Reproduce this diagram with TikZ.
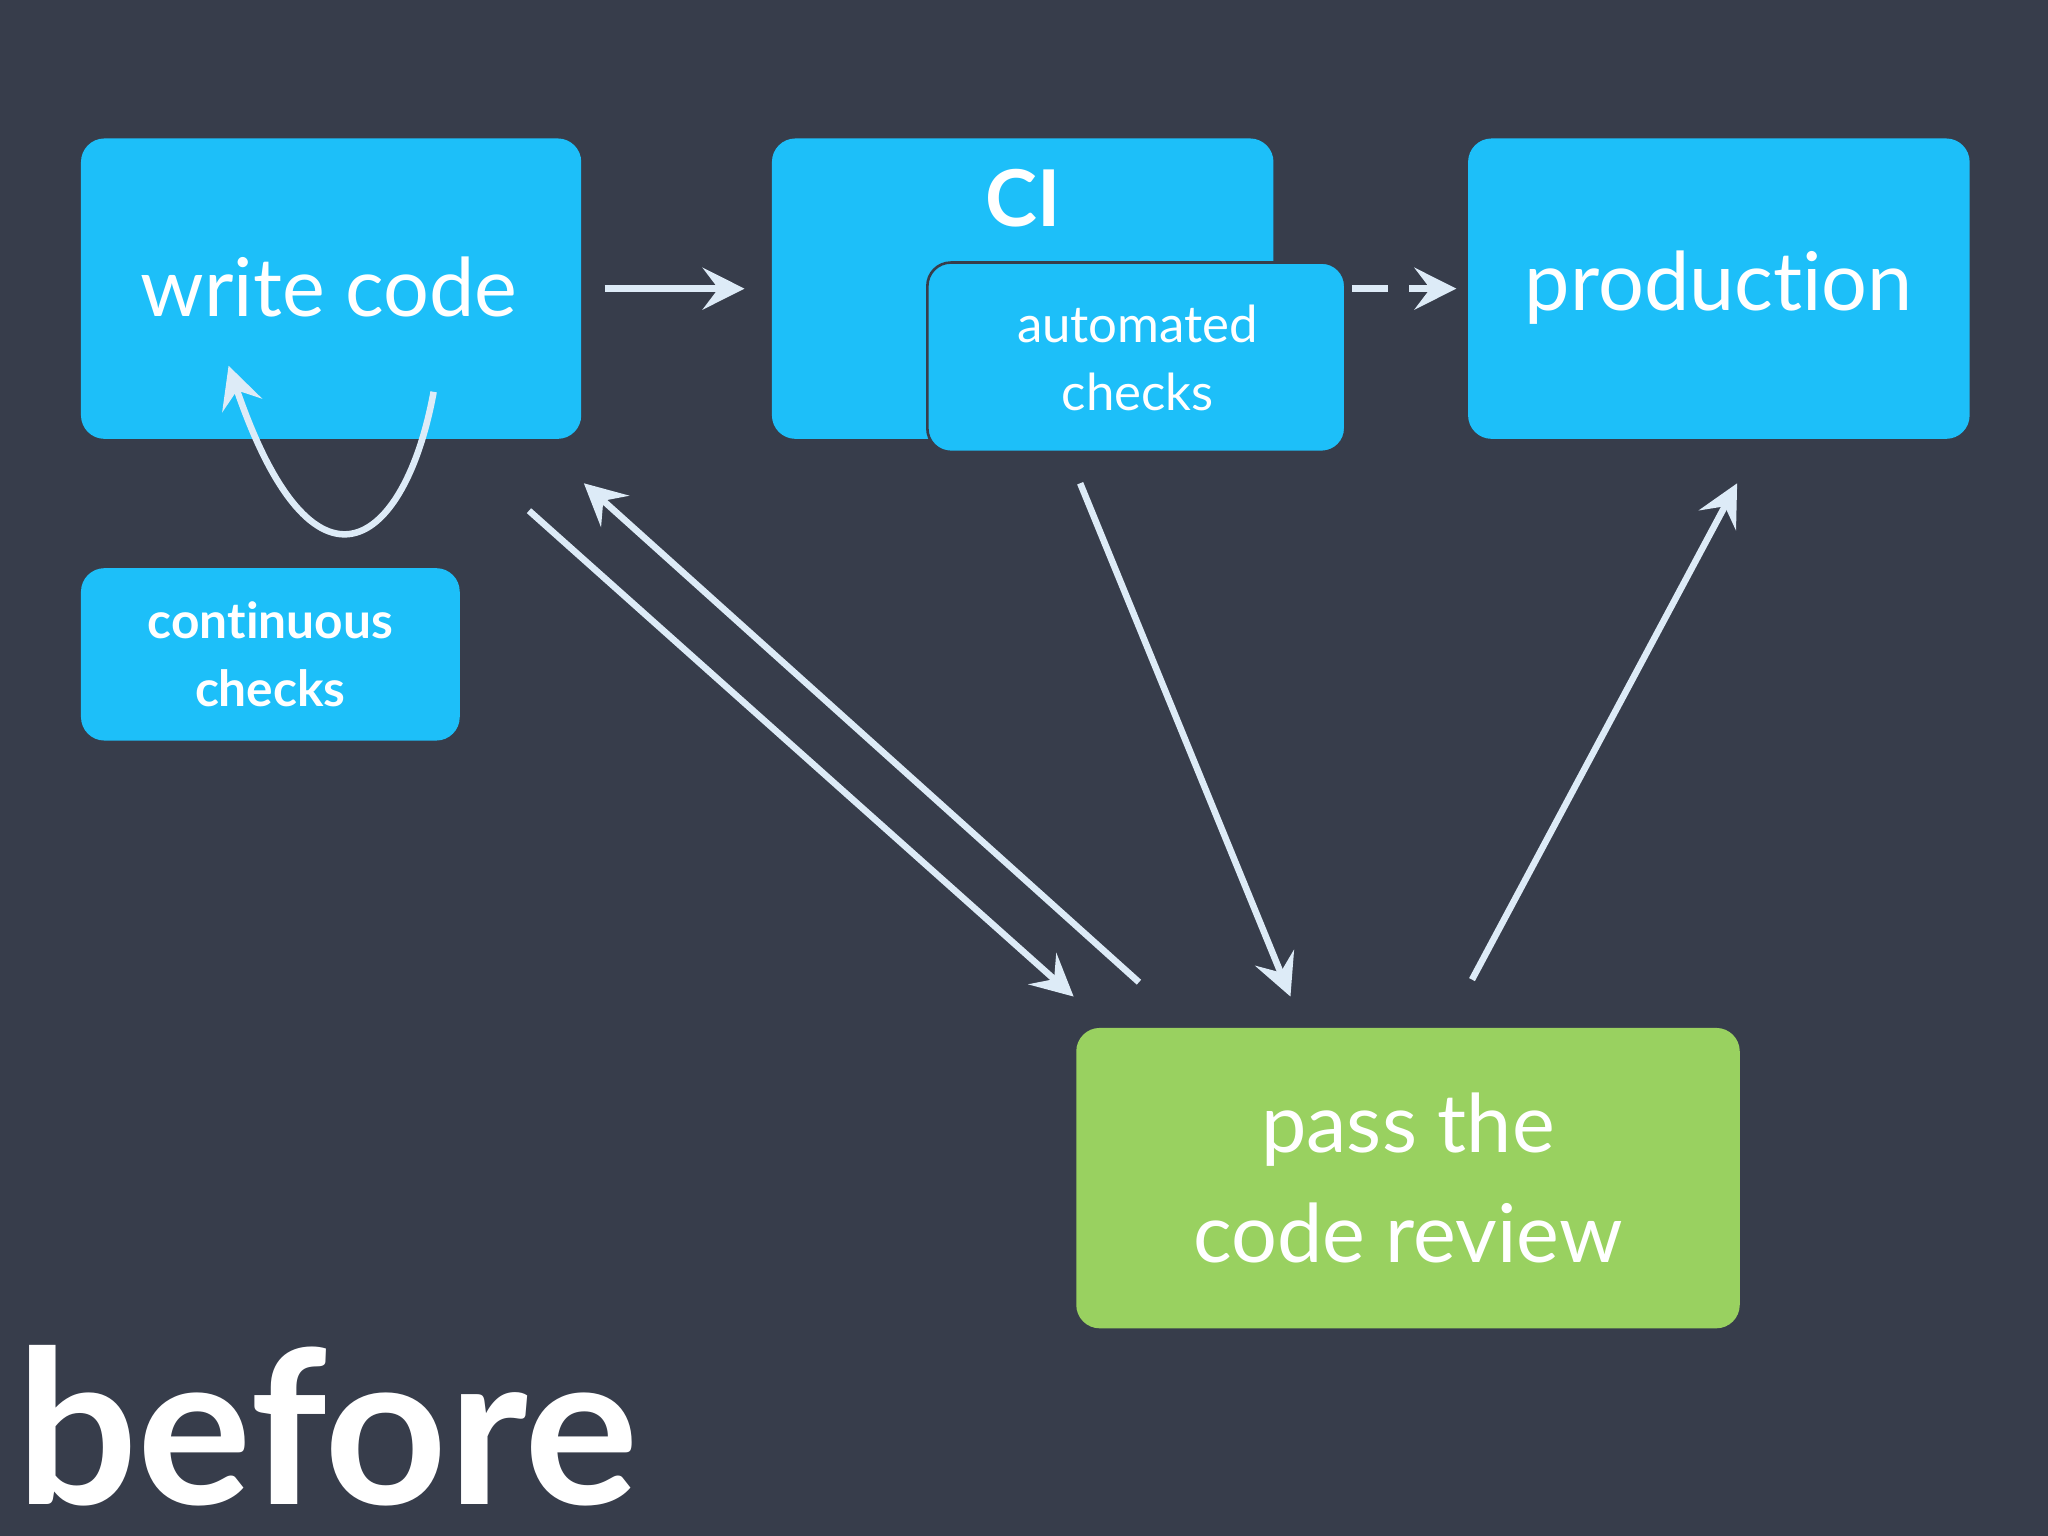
\documentclass[tikz,border=0pt]{standalone}
\usepackage{fontspec}
\setmainfont{Lato}[Ligatures={NoCommon,NoRare,NoDiscretionary}]
\usetikzlibrary{arrows.meta}
\definecolor{bg}{HTML}{373D4B}
\definecolor{bl}{HTML}{1DBFF9}
\definecolor{gr}{HTML}{99D160}
\definecolor{ar}{HTML}{DDEBF7}
\begin{document}
\begin{tikzpicture}[x=0.5pt,y=-0.5pt,
 box/.style={fill=bl,rounded corners=9pt},
 txt/.style={text=white,inner sep=0pt},
 arr/.style={draw=ar,line width=2.5pt,-{Stealth[length=16pt,width=16pt,inset=6pt]}}]
\fill[bg] (0,0) rectangle (1568,1176);
\useasboundingbox (0,0) rectangle (1568,1176);
\fill[box] (62,106) rectangle (445,336);
\node[txt,font=\fontsize{31}{34}\selectfont] (wc) at (252,220) {write code};
\fill[box] (591,106) rectangle (975,336);
\node[txt,font=\fontsize{30}{34}\selectfont\bfseries] (ci) at (783,152) {CI};
\draw[box,draw=bg,line width=1pt] (710,201) rectangle (1030,346);
\node[txt,font=\fontsize{19.5}{26}\selectfont,align=center] (ac) at (871,274) {automated\\checks};
\fill[box] (1124,106) rectangle (1508,336);
\node[txt,font=\fontsize{31}{34}\selectfont] (pr) at (1316,220) {production};
\fill[box] (62,435) rectangle (352,567);
\node[txt,font=\fontsize{19}{26}\selectfont\bfseries,align=center] (cc) at (207,501) {continuous\\checks};
\fill[fill=gr,rounded corners=9pt] (824,787) rectangle (1332,1017);
\node[txt,font=\fontsize{31}{42}\selectfont,align=center] (cr) at (1078,902) {pass the\\code review};
\node[txt,font=\fontsize{82}{84}\selectfont\bfseries,anchor=base west] (bf) at (12,1152) {before};
\coordinate (a1) at (463,221); \coordinate (a2) at (570,221);
\draw[arr] (a1) -- (a2);
\coordinate (d1) at (1035,221); \coordinate (d2) at (1115,221);
\draw[arr,dash pattern=on 14pt off 8pt] (d1) -- (d2);
\coordinate (l1) at (332,300); \coordinate (l2) at (175,280);
\draw[arr] (l1) .. controls (310,420) and (240,470) .. (l2);
\coordinate (b1) at (405,391); \coordinate (b2) at (822,763);
\draw[arr] (b1) -- (b2);
\coordinate (c1) at (872,752); \coordinate (c2) at (447,370);
\draw[arr] (c1) -- (c2);
\coordinate (e1) at (827,370); \coordinate (e2) at (988,763);
\draw[arr] (e1) -- (e2);
\coordinate (f1) at (1127,750); \coordinate (f2) at (1330,370);
\draw[arr] (f1) -- (f2);
\end{tikzpicture}
\end{document}
